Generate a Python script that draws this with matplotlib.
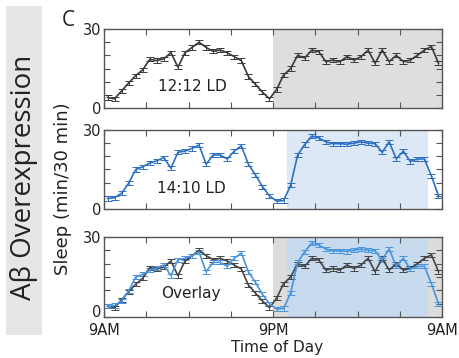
import matplotlib
matplotlib.use('Agg')
import matplotlib.pyplot as plt
import numpy as np

# 30-min bins starting at 9AM (hours since 9AM, bin centres)
hours = np.arange(48) * 0.5 + 0.25

sleep_1212 = [4, 3.5, 6.5, 9.5, 12.3, 14.5, 18.5, 18, 18.7, 21, 15.5, 21,
              23, 25, 23, 21.5, 22, 21, 19.5, 18, 12, 9, 6, 3.5,
              7, 12.5, 15, 20, 19, 22, 21.4, 17.6, 18.2, 17.6, 19.5, 18.2,
              19.5, 22, 17, 22, 17.6, 20, 17.6, 18.2, 20, 22, 23.3, 17]
sleep_1410 = [4, 4.3, 6, 9.8, 15, 16, 17.5, 18.3, 19.5, 15.5, 21.5, 22,
              23, 24.3, 17, 20.5, 20.5, 19, 22, 24, 17, 13, 8.5, 5,
              3, 3.2, 9, 20.5, 24.5, 27.7, 27, 25.5, 24.8, 24.8, 24.6, 25,
              25.5, 25, 24.8, 21.5, 25.5, 19, 22, 18, 19, 19, 12.5, 5]
sem_1212 = 0.8
sem_1410 = 0.8

# dark periods (hours since 9AM)
dark_1212 = (12, 24)
dark_1410 = (13, 23)

xtick_pos = np.arange(0, 25, 3)
xtick_labels = ['9AM', '', '', '', '9PM', '', '', '', '9AM']

fig = plt.figure(figsize=(4.59, 3.58), dpi=100)

# side label
fig.patches.append(plt.Rectangle((0.013, 0.064), 0.078, 0.919, transform=fig.transFigure,
                                 facecolor='#e6e6e6', edgecolor='none'))
fig.text(0.052, 0.505, 'Aβ Overexpression', rotation=90, ha='center', va='center',
         fontsize=20, color='#222222', family=['Open Sans', 'DejaVu Sans'])
fig.text(0.148, 0.944, 'C', ha='center', va='center', fontsize=15, color='#222222',
         family=['Open Sans', 'DejaVu Sans'])
fig.text(0.137, 0.472, 'Sleep (min/30 min)', rotation=90, ha='center', va='center',
         fontsize=13, color='#222222')
fig.text(0.604, 0.028, 'Time of Day', ha='center', va='center', fontsize=11, color='#222222')

left, width = 0.2266, 0.7364
ax1 = fig.add_axes([left, 0.6983, width, 0.2207])
ax2 = fig.add_axes([left, 0.4162, width, 0.2207])
ax3 = fig.add_axes([left, 0.1145, width, 0.2235])

gray_line = '#3a3a3a'
blue_line = '#2d6fc2'
blue_line2 = '#4894e0'

def style(ax, show_x):
    ax.set_xlim(0, 24)
    ax.set_ylim(0, 30)
    ax.set_yticks(np.arange(0, 31, 5))
    ax.set_yticklabels(['0', '', '', '', '', '', '30'])
    ax.set_xticks(xtick_pos)
    ax.set_xticklabels(xtick_labels if show_x else [])
    ax.tick_params(direction='in', length=4, width=0.8, top=True, right=True,
                   color='#555555', labelsize=10.5, labelcolor='#222222', pad=2)
    ax.tick_params(axis='x', pad=4)
    for s in ax.spines.values():
        s.set_color('#555555')
        s.set_linewidth(1.0)
    if show_x:
        ax.get_yticklabels()[0].set_verticalalignment('baseline')

def trace(ax, y, err, color):
    ax.errorbar(hours, y, yerr=err, color=color, lw=1.2, elinewidth=0.7,
                capsize=3, capthick=0.7)

# 12:12 LD
ax1.axvspan(*dark_1212, color='#dedede', lw=0)
trace(ax1, sleep_1212, sem_1212, gray_line)
ax1.text(6.3, 8.1, '12:12 LD', ha='center', va='center', fontsize=11, color='#222222')
style(ax1, False)

# 14:10 LD
ax2.axvspan(*dark_1410, color='#dce8f6', lw=0)
trace(ax2, sleep_1410, sem_1410, blue_line)
ax2.text(6.2, 7.9, '14:10 LD', ha='center', va='center', fontsize=11, color='#222222')
style(ax2, False)

# overlay
ax3.axvspan(*dark_1212, color='#dcdcdc', lw=0)
ax3.axvspan(*dark_1410, color='#c8daee', lw=0)
trace(ax3, sleep_1212, sem_1212, '#444444')
trace(ax3, sleep_1410, sem_1410, blue_line2)
ax3.text(6.2, 8.7, 'Overlay', ha='center', va='center', fontsize=11, color='#222222')
style(ax3, True)

plt.savefig('out.png', dpi=100)
